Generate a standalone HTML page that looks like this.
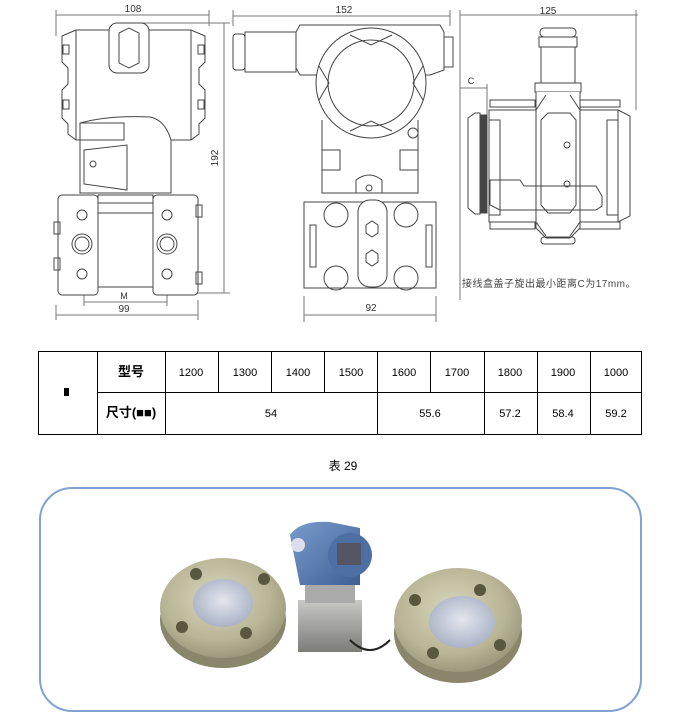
<!DOCTYPE html>
<html><head><meta charset="utf-8"><style>
html,body{margin:0;padding:0;background:#fff;width:688px;height:716px;overflow:hidden}
svg{position:absolute;left:0;top:0}
.t{font-family:"Liberation Sans","Noto Sans CJK SC",sans-serif}
</style></head><body>
<svg width="688" height="716" viewBox="0 0 688 716" xmlns="http://www.w3.org/2000/svg">
<defs>
<radialGradient id="fl" cx="45%" cy="40%" r="70%"><stop offset="0" stop-color="#d8d6bd"/><stop offset="0.6" stop-color="#b9b596"/><stop offset="1" stop-color="#8d8a70"/></radialGradient>
<radialGradient id="dp" cx="50%" cy="45%" r="60%"><stop offset="0" stop-color="#e2e6ee"/><stop offset="1" stop-color="#a5afc2"/></radialGradient>
<linearGradient id="bl" x1="0" y1="0" x2="1" y2="1"><stop offset="0" stop-color="#7a9ccc"/><stop offset="1" stop-color="#3d5f93"/></linearGradient>
<linearGradient id="gy" x1="0" y1="0" x2="0" y2="1"><stop offset="0" stop-color="#c8c8c4"/><stop offset="1" stop-color="#7c7c78"/></linearGradient>
</defs>
<g fill="none" stroke="#444" stroke-width="1">
<path d="M56 15H209M56 10V36M209 10V26M224 23V293M140 23H230M190 293H230M56 315H198M56 305V320M198 300V320M84 302H167M84 290V306M167 290V306" stroke="#777"/>
<path d="M76 30L62 36V62L68 68V84L62 90V118L68 124V134L76 140H191L199 134V124L205 118V90L199 84V68L205 62V36L191 30Z" fill="#fff"/>
<path d="M76 30V140M191 30V140"/>
<rect x="63" y="45" width="6" height="9"/><rect x="63" y="100" width="6" height="9"/><rect x="198" y="45" width="6" height="9"/><rect x="198" y="100" width="6" height="9"/>
<rect x="109" y="23" width="40" height="50" rx="8" fill="#fff"/>
<path d="M119 33L129 28L139 33V63L129 68L119 63Z"/>
<path d="M80 140V193H171V140Q165 120 150 117Q110 115 80 123Z" fill="#fff"/>
<rect x="80" y="123" width="44" height="17" fill="#fff"/>
<path d="M84 150L127 145V190L84 184Z"/><circle cx="93" cy="164" r="3"/>
<rect x="98" y="195" width="55" height="8"/><rect x="98" y="213" width="55" height="74"/>
<rect x="58" y="195" width="40" height="100" rx="4" fill="#fff"/><rect x="153" y="195" width="45" height="100" rx="4" fill="#fff"/>
<circle cx="82" cy="244" r="7"/><circle cx="82" cy="244" r="10"/><circle cx="167" cy="244" r="7"/><circle cx="167" cy="244" r="10"/>
<circle cx="82" cy="215" r="5"/><circle cx="167" cy="215" r="5"/><circle cx="82" cy="274" r="5"/><circle cx="167" cy="274" r="5"/>
<rect x="54" y="222" width="6" height="12"/><rect x="54" y="258" width="6" height="12"/><rect x="196" y="205" width="6" height="12"/><rect x="196" y="272" width="6" height="12"/>
<path d="M233 16H450M233 10V26M450 10V26M304 315H436M304 296V322M436 296V322" stroke="#777"/>
<rect x="233" y="34" width="12" height="36" rx="3" fill="#fff"/><rect x="245" y="32" width="51" height="40" fill="#fff"/>
<path d="M300 25H440L444 32V70L430 75H300L296 68V32Z" fill="#fff"/>
<rect x="444" y="37" width="9" height="30"/>
<path d="M322 120V193H418V120" fill="#fff"/>
<circle cx="371" cy="83" r="55" fill="#fff"/><circle cx="371" cy="83" r="43"/>
<path d="M350 35L371 45L392 35M350 131L371 121L392 131M319 66L329 83L319 100M423 66L413 83L423 100"/>
<circle cx="413" cy="133" r="5"/>
<path d="M322 150H340V170H322M418 150H400V170H418"/>
<path d="M356 193V180Q369 170 382 180V193"/><circle cx="369" cy="188" r="3"/>
<rect x="304" y="202" width="132" height="86" fill="#fff"/>
<rect x="358" y="200" width="29" height="87" rx="12" fill="#fff"/>
<circle cx="336" cy="215" r="12"/><circle cx="406" cy="215" r="12"/><circle cx="336" cy="278" r="12"/><circle cx="406" cy="278" r="12"/>
<rect x="310" y="225" width="6" height="42"/><rect x="426" y="225" width="6" height="42"/>
<path d="M366 225L372 221L378 225V233L372 237L366 233Z"/>
<path d="M366 254L372 250L378 254V262L372 266L366 262Z"/>
<path d="M460 15H638M460 10V300M636 10V110M460 88H487M487 84V115" stroke="#777"/>
<rect x="540" y="28" width="36" height="9" rx="4"/><rect x="539" y="37" width="38" height="10"/><rect x="541" y="47" width="34" height="36" fill="#fff"/><rect x="535" y="83" width="46" height="9" fill="#fff"/>
<path d="M475 113L468 118V208L475 214H480V113Z" fill="#fff"/>
<rect x="481" y="115" width="6" height="98" fill="#444"/>
<rect x="489" y="110" width="129" height="112" fill="#fff"/>
<path d="M618 110L630 116V216L618 222Z" fill="#fff"/>
<path d="M489 120H500V215H489M618 120H607V215H618"/>
<rect x="490" y="100" width="45" height="7"/><rect x="580" y="100" width="40" height="7"/><rect x="490" y="222" width="45" height="7"/><rect x="580" y="222" width="40" height="7"/>
<path d="M536 92V228L546 238H570L580 228V92" fill="#fff"/><path d="M546 95L536 110M570 95L580 110M546 236L536 222M570 236L580 222"/>
<path d="M541 120L548 113H570L576 120V205L570 213H548L541 205Z"/>
<path d="M490 180H520L524 186H596L602 196V206L596 210H500L490 205Z"/>
<circle cx="567" cy="145" r="3"/><circle cx="567" cy="184" r="3"/>
<rect x="541" y="237" width="34" height="7" rx="3"/>
</g>
<g class="t" fill="#333" font-size="10" text-anchor="middle">
<text x="133" y="12">108</text><text x="344" y="13">152</text><text x="548" y="14">125</text>
<text x="471" y="84" font-size="9">C</text>
<text x="124" y="299" font-size="9">M</text><text x="124" y="312">99</text><text x="371" y="311">92</text>
<text x="218" y="158" transform="rotate(-90 218 158)">192</text>
<text x="462" y="287" font-size="10" fill="#444" text-anchor="start" letter-spacing="0.5">接线盒盖子旋出最小距离C为17mm。</text>
</g>
<g fill="none" stroke="#000" stroke-width="1">
<rect x="38.5" y="351.5" width="603" height="83"/>
<path d="M97.5 351.5V434.5M165.5 351.5V434.5M97.5 392.5H641.5M218.5 351.5V392.5M271.5 351.5V392.5M324.5 351.5V392.5M377.5 351.5V434.5M430.5 351.5V392.5M484.5 351.5V434.5M537.5 351.5V434.5M590.5 351.5V434.5"/>
</g>
<rect x="64" y="388" width="5" height="8" fill="#000"/>
<g class="t" font-size="11" text-anchor="middle" fill="#000">
<text x="131" y="376" font-weight="bold" font-size="13">型号</text>
<text x="131" y="417" font-weight="bold" font-size="13">尺寸(■■)</text>
<text x="191" y="376">1200</text><text x="245" y="376">1300</text><text x="298" y="376">1400</text><text x="351" y="376">1500</text><text x="404" y="376">1600</text><text x="457" y="376">1700</text><text x="510" y="376">1800</text><text x="563" y="376">1900</text><text x="616" y="376">1000</text>
<text x="271" y="417">54</text><text x="430" y="417">55.6</text><text x="510" y="417">57.2</text><text x="563" y="417">58.4</text><text x="616" y="417">59.2</text>
<text x="343" y="470" font-size="12">表 29</text>
</g>
<rect x="40" y="488" width="601" height="223" rx="32" fill="#fff" stroke="#7fa3d2" stroke-width="2"/>
<ellipse cx="223" cy="620" rx="63" ry="48" fill="#8a866c"/>
<ellipse cx="223" cy="608" rx="63" ry="50" fill="url(#fl)"/>
<ellipse cx="223" cy="603" rx="30" ry="24" fill="url(#dp)"/>
<circle cx="196" cy="574" r="6" fill="#5a573f"/><circle cx="264" cy="579" r="6" fill="#5a573f"/><circle cx="182" cy="627" r="6" fill="#5a573f"/><circle cx="246" cy="633" r="6" fill="#5a573f"/>
<rect x="298" y="600" width="64" height="52" fill="url(#gy)"/>
<rect x="305" y="585" width="50" height="18" fill="#aaa"/>
<path d="M290 535Q300 520 330 522L360 528V585H300Z" fill="url(#bl)"/>
<circle cx="350" cy="555" r="22" fill="#4d6fa3"/><rect x="337" y="543" width="24" height="22" fill="#556"/>
<circle cx="298" cy="545" r="7" fill="#dde"/>
<path d="M350 640Q370 660 390 640" stroke="#222" fill="none" stroke-width="2"/>
<ellipse cx="458" cy="633" rx="64" ry="50" fill="#8a866c"/>
<ellipse cx="458" cy="620" rx="64" ry="52" fill="url(#fl)"/>
<ellipse cx="462" cy="622" rx="33" ry="26" fill="url(#dp)"/>
<circle cx="480" cy="590" r="6" fill="#5a573f"/><circle cx="415" cy="600" r="6" fill="#5a573f"/><circle cx="500" cy="645" r="6" fill="#5a573f"/><circle cx="433" cy="653" r="6" fill="#5a573f"/>
</svg>
</body></html>
